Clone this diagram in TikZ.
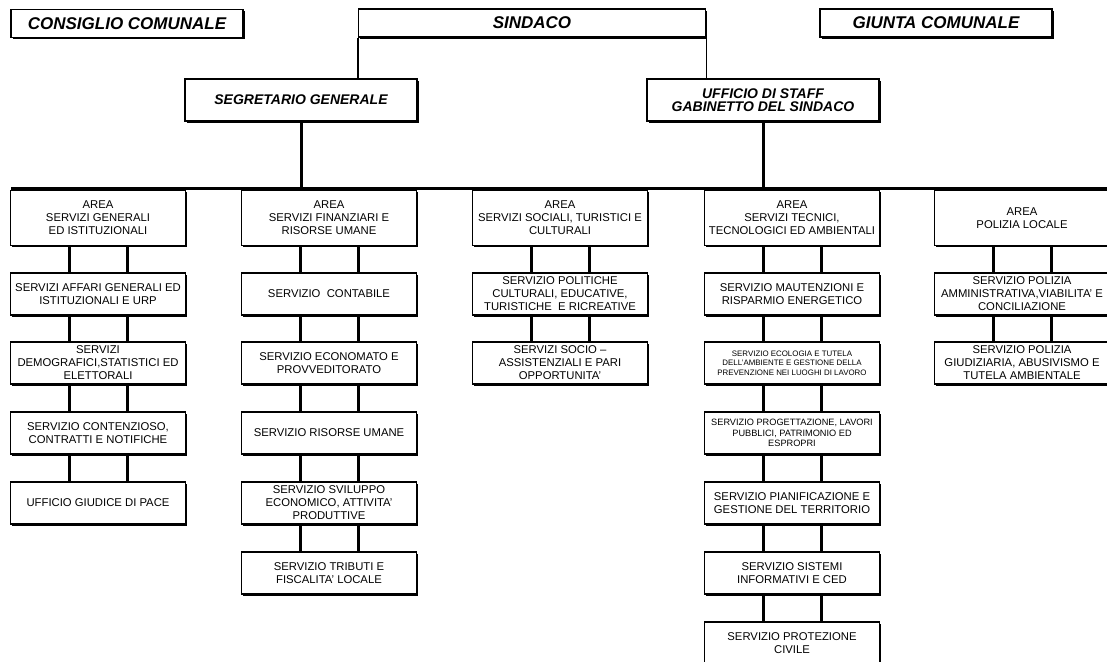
\documentclass[tikz,border=0pt]{standalone}
\usepackage{fontspec}
\setmainfont{Liberation Sans}
\usetikzlibrary{shadows}

\tikzset{
  box/.style={draw, line width=1.9pt, fill=white, inner sep=1pt, align=center,
    drop shadow={shadow xshift=1.6pt, shadow yshift=-1.6pt, opacity=1, fill=black}},
  headbox/.style={box, minimum width=232pt, minimum height=28pt,
    font=\fontsize{17}{20}\selectfont\bfseries\itshape},
  staffbox/.style={box, minimum width=232pt, minimum height=42pt,
    font=\fontsize{14}{13.5}\selectfont\bfseries\itshape},
  areabox/.style={box, minimum width=175pt, minimum height=55pt,
    font=\fontsize{11.3}{13}\selectfont},
  servbox/.style={box, minimum width=175pt, minimum height=42pt,
    font=\fontsize{11.3}{13}\selectfont},
  smallserv/.style={servbox, font=\fontsize{7.9}{9.3}\selectfont},
  midserv/.style={servbox, font=\fontsize{9.2}{10.3}\selectfont},
  link/.style={line width=3pt},
  thinlink/.style={line width=1.9pt}
}

\begin{document}
\begin{tikzpicture}[x=1pt, y=-1pt]

    % Page frame
    \useasboundingbox[fill=white] (0,0) rectangle (1107,661);

    % Top row
    \node[headbox] (consiglio) at (127,23.5) {CONSIGLIO COMUNALE};
    \node[headbox, minimum width=347pt] (sindaco) at (532,23) {SINDACO};
    \node[headbox] (giunta) at (936,23) {GIUNTA COMUNALE};

    % Second row
    \node[staffbox] (segretario) at (301,100) {SEGRETARIO GENERALE};
    \node[staffbox] (staff) at (763,100) {UFFICIO DI STAFF\\GABINETTO DEL SINDACO};

    % Lines from the Sindaco
    \draw[thinlink] (sindaco.south west) -- (sindaco.south west |- segretario.north);
    \draw[thinlink] (sindaco.south east) -- (sindaco.south east |- staff.north);

    % Bar above the areas
    \coordinate (barL) at (11,188);
    \coordinate (barR) at (1110,188);
    \draw[link] (barL) -- (barR);
    \draw[link] (segretario.south) -- (segretario.south |- barL);
    \draw[link] (staff.south) -- (staff.south |- barL);

    % Area servizi generali
    \node[areabox] (ag) at (98,218) {AREA\\SERVIZI GENERALI\\ED ISTITUZIONALI};
    \node[servbox] (g1) at (98,294) {SERVIZI AFFARI GENERALI ED\\ISTITUZIONALI E URP};
    \node[servbox] (g2) at (98,363) {SERVIZI\\DEMOGRAFICI,STATISTICI ED\\ELETTORALI};
    \node[servbox] (g3) at (98,433) {SERVIZIO CONTENZIOSO,\\CONTRATTI E NOTIFICHE};
    \node[servbox] (g4) at (98,503) {UFFICIO GIUDICE DI PACE};

    % Area servizi finanziari
    \node[areabox] (af) at (329,218) {AREA\\SERVIZI FINANZIARI E\\RISORSE UMANE};
    \node[servbox] (f1) at (329,294) {SERVIZIO\ \ CONTABILE};
    \node[servbox] (f2) at (329,363) {SERVIZIO ECONOMATO E\\PROVVEDITORATO};
    \node[servbox] (f3) at (329,433) {SERVIZIO RISORSE UMANE};
    \node[servbox] (f4) at (329,503) {SERVIZIO SVILUPPO\\ECONOMICO, ATTIVITA'\\PRODUTTIVE};
    \node[servbox] (f5) at (329,573) {SERVIZIO TRIBUTI E\\FISCALITA' LOCALE};

    % Area servizi sociali
    \node[areabox] (as) at (560,218) {AREA\\SERVIZI SOCIALI, TURISTICI E\\CULTURALI};
    \node[servbox] (c1) at (560,294) {SERVIZIO POLITICHE\\CULTURALI, EDUCATIVE,\\TURISTICHE\ \ E RICREATIVE};
    \node[servbox] (c2) at (560,363) {SERVIZI SOCIO –\\ASSISTENZIALI E PARI\\OPPORTUNITA'};

    % Area servizi tecnici
    \node[areabox] (at) at (792,218) {AREA\\SERVIZI TECNICI,\\TECNOLOGICI ED AMBIENTALI};
    \node[servbox] (t1) at (792,294) {SERVIZIO MAUTENZIONI E\\RISPARMIO ENERGETICO};
    \node[smallserv] (t2) at (792,363) {SERVIZIO ECOLOGIA E TUTELA\\DELL'AMBIENTE E GESTIONE DELLA\\PREVENZIONE NEI LUOGHI DI LAVORO};
    \node[midserv] (t3) at (792,433) {SERVIZIO PROGETTAZIONE, LAVORI\\PUBBLICI, PATRIMONIO ED\\ESPROPRI};
    \node[servbox] (t4) at (792,503) {SERVIZIO PIANIFICAZIONE E\\GESTIONE DEL TERRITORIO};
    \node[servbox] (t5) at (792,573) {SERVIZIO SISTEMI\\INFORMATIVI E CED};
    \node[servbox] (t6) at (792,643) {SERVIZIO PROTEZIONE\\CIVILE};

    % Area polizia locale
    \node[areabox] (ap) at (1022,218) {AREA\\POLIZIA LOCALE};
    \node[servbox] (p1) at (1022,294) {SERVIZIO POLIZIA\\AMMINISTRATIVA,VIABILITA' E\\CONCILIAZIONE};
    \node[servbox] (p2) at (1022,363) {SERVIZIO POLIZIA\\GIUDIZIARIA, ABUSIVISMO E\\TUTELA AMBIENTALE};

    % Double links, servizi generali
    \draw[link] ([xshift=-29pt]ag.south) -- ([xshift=-29pt]g1.north) ([xshift=29pt]ag.south) -- ([xshift=29pt]g1.north);
    \draw[link] ([xshift=-29pt]g1.south) -- ([xshift=-29pt]g2.north) ([xshift=29pt]g1.south) -- ([xshift=29pt]g2.north);
    \draw[link] ([xshift=-29pt]g2.south) -- ([xshift=-29pt]g3.north) ([xshift=29pt]g2.south) -- ([xshift=29pt]g3.north);
    \draw[link] ([xshift=-29pt]g3.south) -- ([xshift=-29pt]g4.north) ([xshift=29pt]g3.south) -- ([xshift=29pt]g4.north);

    % Double links, servizi finanziari
    \draw[link] ([xshift=-29pt]af.south) -- ([xshift=-29pt]f1.north) ([xshift=29pt]af.south) -- ([xshift=29pt]f1.north);
    \draw[link] ([xshift=-29pt]f1.south) -- ([xshift=-29pt]f2.north) ([xshift=29pt]f1.south) -- ([xshift=29pt]f2.north);
    \draw[link] ([xshift=-29pt]f2.south) -- ([xshift=-29pt]f3.north) ([xshift=29pt]f2.south) -- ([xshift=29pt]f3.north);
    \draw[link] ([xshift=-29pt]f3.south) -- ([xshift=-29pt]f4.north) ([xshift=29pt]f3.south) -- ([xshift=29pt]f4.north);
    \draw[link] ([xshift=-29pt]f4.south) -- ([xshift=-29pt]f5.north) ([xshift=29pt]f4.south) -- ([xshift=29pt]f5.north);

    % Double links, servizi sociali
    \draw[link] ([xshift=-29pt]as.south) -- ([xshift=-29pt]c1.north) ([xshift=29pt]as.south) -- ([xshift=29pt]c1.north);
    \draw[link] ([xshift=-29pt]c1.south) -- ([xshift=-29pt]c2.north) ([xshift=29pt]c1.south) -- ([xshift=29pt]c2.north);

    % Double links, servizi tecnici
    \draw[link] ([xshift=-29pt]at.south) -- ([xshift=-29pt]t1.north) ([xshift=29pt]at.south) -- ([xshift=29pt]t1.north);
    \draw[link] ([xshift=-29pt]t1.south) -- ([xshift=-29pt]t2.north) ([xshift=29pt]t1.south) -- ([xshift=29pt]t2.north);
    \draw[link] ([xshift=-29pt]t2.south) -- ([xshift=-29pt]t3.north) ([xshift=29pt]t2.south) -- ([xshift=29pt]t3.north);
    \draw[link] ([xshift=-29pt]t3.south) -- ([xshift=-29pt]t4.north) ([xshift=29pt]t3.south) -- ([xshift=29pt]t4.north);
    \draw[link] ([xshift=-29pt]t4.south) -- ([xshift=-29pt]t5.north) ([xshift=29pt]t4.south) -- ([xshift=29pt]t5.north);
    \draw[link] ([xshift=-29pt]t5.south) -- ([xshift=-29pt]t6.north) ([xshift=29pt]t5.south) -- ([xshift=29pt]t6.north);

    % Double links, polizia locale
    \draw[link] ([xshift=-29pt]ap.south) -- ([xshift=-29pt]p1.north) ([xshift=29pt]ap.south) -- ([xshift=29pt]p1.north);
    \draw[link] ([xshift=-29pt]p1.south) -- ([xshift=-29pt]p2.north) ([xshift=29pt]p1.south) -- ([xshift=29pt]p2.north);

\end{tikzpicture}
\end{document}
